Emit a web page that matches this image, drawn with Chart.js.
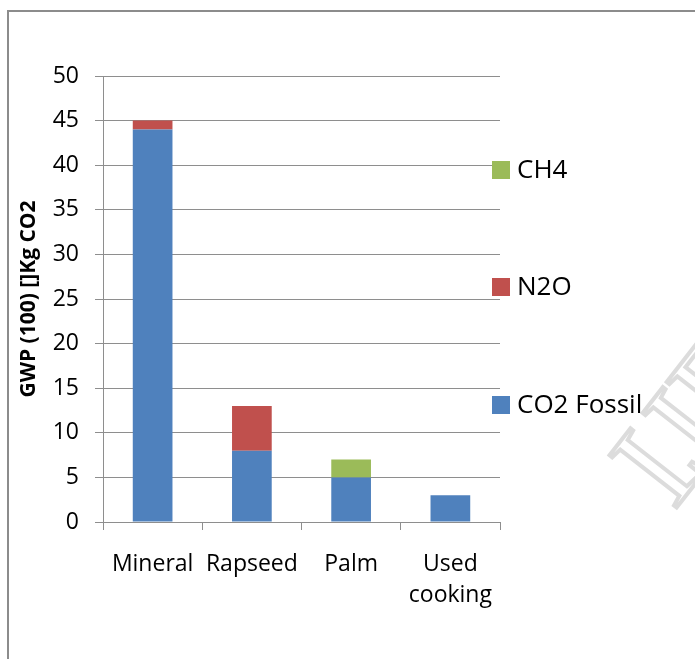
<!DOCTYPE html>
<html>
<head>
<meta charset="utf-8">
<script src="https://cdn.jsdelivr.net/npm/chart.js@4/dist/chart.umd.min.js"></script>
<style>
  html, body { margin: 0; padding: 0; background: #fff; }
  #wrap { position: relative; width: 695px; height: 659px; overflow: hidden; }
  #frame {
    position: absolute; left: 7px; top: 10px; width: 800px; height: 800px;
    border-left: 2px solid #8c8c8c; border-top: 2px solid #8c8c8c; box-sizing: border-box;
  }
  #c { position: absolute; left: 0; top: 0; }
  .leg { position: absolute; left: 492px; font-family: "Open Sans", sans-serif; font-size: 26px; color: #000; }
  .leg span.sw { position: absolute; left: 0; top: 0; width: 18px; height: 18px; }
  .leg span.tx { position: absolute; left: 25px; top: -11px; white-space: nowrap; }
  #wm {
    position: absolute; left: 580px; top: 438px; font-family: "Liberation Serif", "DejaVu Serif", serif;
    font-size: 130px; color: transparent; -webkit-text-stroke: 4px #dcdcdc;
    transform: rotate(-52deg); transform-origin: left top; white-space: nowrap;
  }
</style>
</head>
<body>
<div id="wrap">
  <div id="frame"></div>
  <div id="wm">IJERT</div>
  <canvas id="c" width="695" height="659"></canvas>
  <div id="legend"></div>
</div>
<script>
// fuel types on the x axis
const categories = ['Mineral', 'Rapseed', 'Palm', ['Used', 'cooking']]
// GWP contributions, kg CO2 eq
const co2Fossil = [44, 8, 5, 3]
const n2o = [1, 5, 0, 0]
const ch4 = [0, 0, 2, 0]
const yTicks = [0, 5, 10, 15, 20, 25, 30, 35, 40, 45, 50]

const FONT = '"Open Sans", sans-serif'
const GRID = '#8e8e8e'

const series = [
  { label: 'CO2 Fossil', data: co2Fossil, color: '#4f81bd', legendTop: 396 },
  { label: 'N2O', data: n2o, color: '#c0504d', legendTop: 278 },
  { label: 'CH4', data: ch4, color: '#9bbb59', legendTop: 161 }
]

// legend is spread out vertically, so build it by hand
const legend = document.getElementById('legend')
series.forEach(s => {
  const d = document.createElement('div')
  d.className = 'leg'
  d.style.top = s.legendTop + 'px'
  d.innerHTML = '<span class="sw" style="background:' + s.color + '"></span><span class="tx">' + s.label + '</span>'
  legend.appendChild(d)
})

new Chart(document.getElementById('c'), {
  type: 'bar',
  data: {
    labels: categories,
    datasets: series.map(s => ({
      label: s.label,
      data: s.data,
      backgroundColor: s.color,
      borderWidth: 0,
      categoryPercentage: 1,
      barPercentage: 0.4
    }))
  },
  options: {
    responsive: false,
    animation: false,
    layout: { padding: { top: 76, right: 195, left: 0, bottom: 0 } },
    plugins: {
      legend: { display: false },
      tooltip: { enabled: false }
    },
    scales: {
      x: {
        stacked: true,
        offset: true,
        grid: { display: true, drawOnChartArea: false, offset: true, tickLength: 8, color: GRID, lineWidth: 1 },
        border: { color: GRID, width: 1 },
        ticks: {
          color: '#000', padding: 19, maxRotation: 0, autoSkip: false,
          font: { family: FONT, size: 23, lineHeight: 1.35 }
        },
        afterFit: scale => { scale.height = 659 - 522 }
      },
      y: {
        stacked: true,
        min: 0,
        max: 50,
        afterBuildTicks: scale => { scale.ticks = yTicks.map(v => ({ value: v })) },
        grid: { color: GRID, lineWidth: 1, tickLength: 8 },
        border: { color: GRID, width: 1 },
        ticks: { color: '#000', padding: 16, font: { family: FONT, size: 23 } },
        title: {
          display: true,
          text: 'GWP (100) []Kg CO2',
          color: '#000',
          font: { family: FONT, size: 21, weight: 'bold' },
          padding: { top: 16, bottom: 0 }
        },
        afterFit: scale => { scale.width = 103 }
      }
    }
  }
})
</script>
</body>
</html>
